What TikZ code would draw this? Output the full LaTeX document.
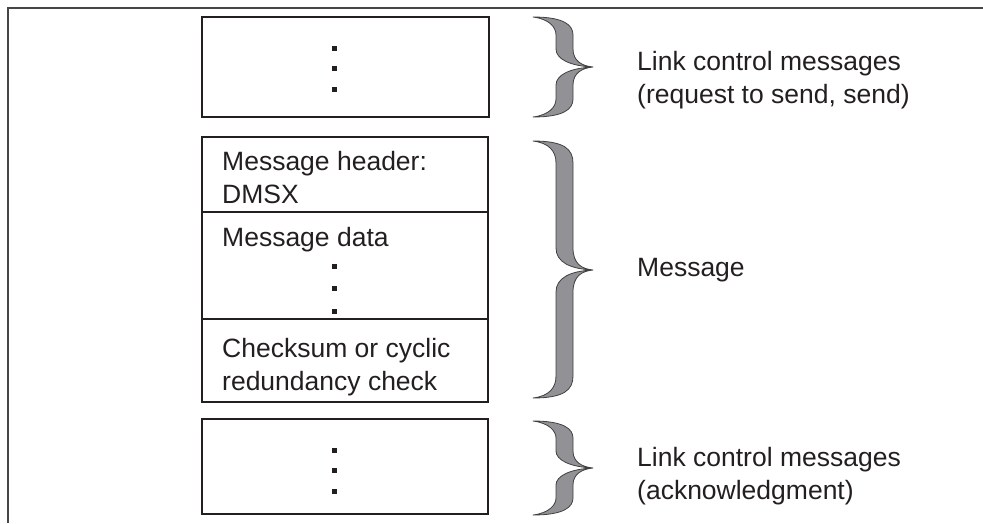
\documentclass[tikz,border=0pt]{standalone}
\usepackage{fontspec}
\setmainfont{Liberation Sans}
\definecolor{bracefill}{RGB}{145,145,150}
\definecolor{ink}{RGB}{35,31,32}
\tikzset{
  frameline/.style={draw={rgb,255:red,70;green,70;blue,70}, line width=1.5pt},
  boxstyle/.style={draw=ink, line width=2pt, inner sep=0pt},
  cellline/.style={draw=ink, line width=1.5pt},
  bracestyle/.style={fill=bracefill, draw=black!75, line width=0.8pt, line join=round},
  lbl/.style={text=ink, inner sep=0pt, align=left, font=\fontsize{26.5}{33}\selectfont},
  sqdot/.style={fill=ink}
}
\newcommand\mybrace[4]{%
  \filldraw[bracestyle] (533,#1)
    .. controls (564,#1) and (573,#1+8) .. (573,#1+#4)
    -- (573,#2-#4)
    .. controls (573,#2-6) and (582,#2-1) .. (593,#2)
    .. controls (582,#2+1) and (573,#2+6) .. (573,#2+#4)
    -- (573,#3-#4)
    .. controls (573,#3-8) and (564,#3) .. (533,#3)
    .. controls (549,#3-2) and (556,#3-10) .. (556,#3-#4)
    -- (556,#2+#4)
    .. controls (556,#2+8) and (570,#2+1) .. (593,#2)
    .. controls (570,#2-1) and (556,#2-8) .. (556,#2-#4)
    -- (556,#1+#4)
    .. controls (556,#1+10) and (549,#1+2) .. cycle;}
\newcommand\dotsq[2]{\fill[sqdot] (#1-2.5,#2-2.5) rectangle (#1+2.5,#2+2.5);}
\begin{document}
\begin{tikzpicture}[x=1pt,y=-1pt]
\useasboundingbox (0,0) rectangle (983,523);
% frame
\coordinate (fTL) at (8,8);
\coordinate (fTR) at (983,8);
\coordinate (fBL) at (8,523);
\draw[frameline] (fTR) -- (fTL) -- (fBL);
% top box
\node[boxstyle, minimum width=287pt, minimum height=100pt] (top) at (345,66.5) {};
\dotsq{334}{48}\dotsq{334}{68.5}\dotsq{334}{89}
% middle box
\node[boxstyle, minimum width=286pt, minimum height=265pt] (msg) at (345,269.5) {};
\coordinate (d1l) at (202,212); \coordinate (d1r) at (488,212);
\coordinate (d2l) at (202,319); \coordinate (d2r) at (488,319);
\draw[cellline] (d1l) -- (d1r);
\draw[cellline] (d2l) -- (d2r);
\node[lbl, anchor=west] (hdr) at (222,178) {Message header:\\DMSX};
\node[lbl, anchor=west] (dat) at (222,240) {Message data};
\dotsq{334}{266}\dotsq{334}{288}\dotsq{334}{311}
\node[lbl, anchor=west] (chk) at (222,367) {Checksum or cyclic\\redundancy check};
% bottom box
\node[boxstyle, minimum width=286pt, minimum height=95pt] (bot) at (345,466.5) {};
\dotsq{334}{450}\dotsq{334}{470.5}\dotsq{334}{491}
% braces
\mybrace{17}{67}{117}{18}
\mybrace{141}{270}{398}{22}
\mybrace{421}{468}{515}{17}
% labels
\node[lbl, anchor=west] (l1) at (637,80) {Link control messages\\(request to send, send)};
\node[lbl, anchor=west] (l2) at (637,270) {Message};
\node[lbl, anchor=west] (l3) at (637,476) {Link control messages\\(acknowledgment)};
\end{tikzpicture}
\end{document}
